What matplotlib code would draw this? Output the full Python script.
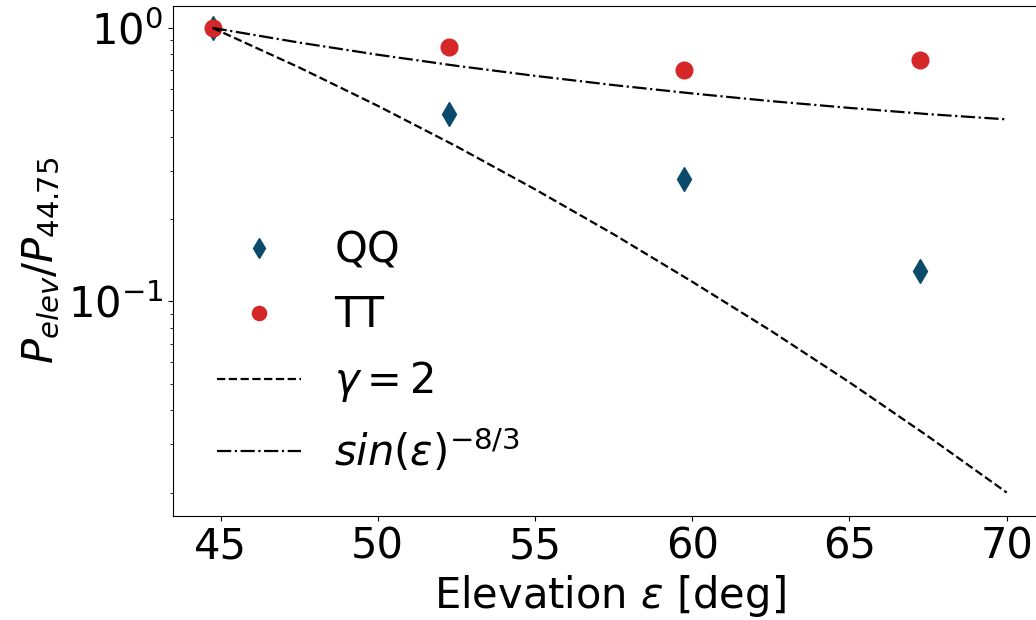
import matplotlib
matplotlib.use("Agg")
import matplotlib.pyplot as plt

plt.rcParams["font.size"] = 30

# measured points (normalised to 44.75 deg)
elev = [44.75, 52.25, 59.75, 67.25]
qq = [1.0, 0.486, 0.280, 0.129]
tt = [1.0, 0.852, 0.700, 0.766]

# model curves
elev_model = [44.75, 47.5, 50, 52.5, 55, 57.5, 60, 62.5, 65, 67.5, 70]
gamma2 = [1.0, 0.717, 0.519, 0.369, 0.257, 0.176, 0.118, 0.0781, 0.0506, 0.0321, 0.0200]
sin83 = [1.0, 0.884, 0.798, 0.727, 0.668, 0.618, 0.576, 0.540, 0.510, 0.484, 0.463]

fig = plt.figure(figsize=(10.36, 6.2), dpi=100)
ax = fig.add_axes([0.167, 0.168, 0.843, 0.823])

h1, = ax.plot(elev, qq, "d", color="#0b4a6b", markersize=12.5, linestyle="none", label="QQ")
h2, = ax.plot(elev, tt, "o", color="#d62728", markersize=12, linestyle="none", label="TT")
h3, = ax.plot(elev_model, gamma2, "k--", lw=1.6, label=r"$\gamma = 2$")
h4, = ax.plot(elev_model, sin83, "k-.", lw=1.6, label=r"$sin(\varepsilon)^{-8/3}$")

ax.set_yscale("log")
ax.set_xlim(43.49, 71.26)
ax.set_ylim(0.01644, 1.207)
ax.set_xticks([45, 50, 55, 60, 65, 70])
ax.set_xlabel(r"Elevation $\varepsilon$ [deg]")
ax.set_ylabel(r"$P_{elev}/P_{44.75}$")

ax.legend(handles=[h1, h2, h3, h4], frameon=False, loc="lower left",
          bbox_to_anchor=(0.008, 0.007), handletextpad=0.8,
          labelspacing=0.55, markerscale=0.85)

fig.savefig("out.png", dpi=100)
